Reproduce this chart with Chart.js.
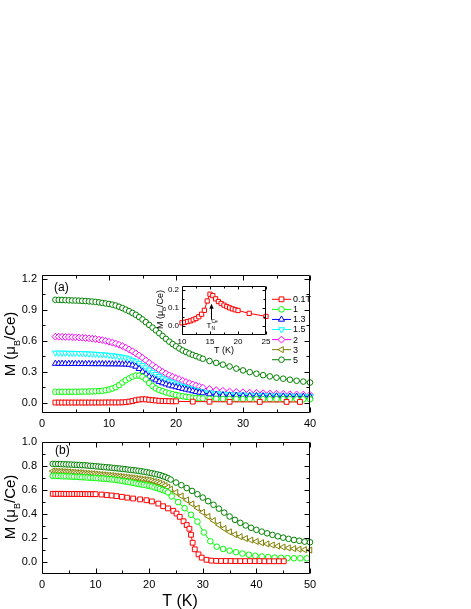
<!DOCTYPE html>
<html><head><meta charset="utf-8">
<script src="https://cdn.jsdelivr.net/npm/chart.js@4.4.1/dist/chart.umd.min.js"></script>
<style>
html,body{margin:0;padding:0;background:#fff}
#wrap{position:relative;width:471px;height:609px;overflow:hidden;background:#fff}
canvas{position:absolute}
</style></head>
<body><div id="wrap">
<canvas id="cA" width="471" height="168" style="left:0;top:262px"></canvas>
<canvas id="cIn" width="125" height="80" style="left:150px;top:278px"></canvas>
<canvas id="cB" width="471" height="179" style="left:0;top:430px"></canvas>
</div>
<script>
// ---------------- DATA ----------------
// Panel (a): temperatures (K)
const tA = [2,2.5,3,3.5,4,4.5,5,5.5,6,6.5,7,7.5,8,8.5,9,9.5,10,10.5,11,11.5,12,12.5,13,13.5,14,14.5,15,15.5,16,16.5,17,17.5,18,18.5,19,19.5,20,20.5,21,21.5,22,22.5,23,23.5,24,
            25,26,27,28,29,30,31,32,33,34,35,36,37,38,39,40];
const mA_5T = [0.995,0.994,0.993,0.992,0.990,0.989,0.988,0.987,0.985,0.983,0.980,0.978,0.975,0.970,0.965,0.960,0.955,0.948,0.940,0.928,0.915,0.900,0.885,0.868,0.850,0.828,0.805,0.779,0.752,0.726,0.700,0.672,0.645,0.617,0.590,0.567,0.545,0.524,0.505,0.490,0.475,0.462,0.450,0.437,0.425,
               0.403,0.385,0.368,0.350,0.330,0.312,0.295,0.280,0.266,0.254,0.242,0.232,0.222,0.212,0.204,0.195];
const mA_2T = [0.638,0.638,0.637,0.636,0.635,0.634,0.632,0.630,0.628,0.625,0.622,0.619,0.615,0.610,0.605,0.598,0.590,0.581,0.572,0.560,0.547,0.532,0.515,0.497,0.478,0.457,0.435,0.410,0.385,0.362,0.340,0.318,0.298,0.281,0.265,0.251,0.238,0.225,0.212,0.200,0.188,0.176,0.165,0.155,0.145,
               0.132,0.122,0.115,0.108,0.104,0.100,0.097,0.094,0.091,0.089,0.087,0.085,0.082,0.080,0.078,0.076];
const mA_1p5T = [0.482,0.482,0.481,0.481,0.480,0.479,0.479,0.478,0.477,0.475,0.474,0.472,0.470,0.468,0.466,0.463,0.460,0.456,0.452,0.447,0.442,0.435,0.425,0.412,0.397,0.380,0.360,0.339,0.318,0.296,0.275,0.256,0.238,0.222,0.208,0.195,0.183,0.171,0.160,0.149,0.138,0.129,0.120,0.112,0.105,
                 0.097,0.090,0.085,0.081,0.078,0.076,0.074,0.072,0.070,0.069,0.068,0.067,0.066,0.065,0.064,0.063];
const mA_1p3T = [0.378,0.378,0.378,0.377,0.377,0.377,0.377,0.376,0.376,0.376,0.376,0.375,0.375,0.375,0.375,0.374,0.374,0.374,0.373,0.373,0.372,0.371,0.369,0.362,0.350,0.328,0.300,0.275,0.252,0.234,0.218,0.203,0.190,0.179,0.168,0.160,0.152,0.144,0.136,0.128,0.121,0.113,0.106,0.099,0.093,
                 0.084,0.078,0.074,0.071,0.069,0.067,0.066,0.065,0.064,0.063,0.062,0.061,0.060,0.059,0.058,0.058];
const mA_1T = [0.105,0.105,0.105,0.105,0.105,0.105,0.106,0.106,0.107,0.107,0.108,0.109,0.110,0.112,0.115,0.120,0.127,0.137,0.150,0.170,0.195,0.217,0.235,0.252,0.262,0.262,0.250,0.225,0.190,0.160,0.138,0.122,0.110,0.099,0.090,0.082,0.075,0.068,0.062,0.057,0.052,0.048,0.045,0.042,0.040,
               0.038,0.037,0.036,0.036,0.035,0.035,0.035,0.035,0.034,0.034,0.034,0.034,0.034,0.033,0.033,0.033];
const tA_01T = [2,2.5,3,3.5,4,4.5,5,5.5,6,6.5,7,7.5,8,8.5,9,9.5,10,10.5,11,11.5,12,12.5,13,13.5,14,14.5,15,15.5,16,16.5,17,17.5,18,18.5,19,19.5,20,
                22.5,25,28,32.5,36.5,38.5];
const mA_01T = [0.001,0.001,0.001,0.001,0.001,0.001,0.001,0.001,0.001,0.001,0.001,0.001,0.001,0.001,0.001,0.002,0.002,0.002,0.002,0.002,0.003,0.005,0.010,0.016,0.024,0.030,0.033,0.032,0.028,0.024,0.021,0.018,0.016,0.015,0.014,0.013,0.013,
                0.010,0.009,0.008,0.007,0.007,0.007];
const tA_3T = [];
const mA_3T = [];
const fieldLabels = ['0.1T','1','1.3','1.5','2','3','5'];

// Inset (0.1 T)
const tInset = [10,10.5,11,11.5,12,12.5,13,13.5,14,14.5,15,15.5,16,16.5,17,17.5,18,18.5,19,19.5,20,22,25];
const mInset = [0.018,0.021,0.025,0.029,0.035,0.042,0.052,0.066,0.088,0.140,0.178,0.170,0.152,0.137,0.126,0.117,0.109,0.102,0.096,0.091,0.087,0.071,0.054];

// Panel (b)
const tB = [2,2.5,3,3.5,4,4.5,5,5.5,6,6.5,7,7.5,8,8.5,9,9.5,10,10.5,11,11.5,12,12.5,13,13.5,14,14.5,15,15.5,16,16.5,17,17.5,18,18.5,19,19.5,20,20.5,21,21.5,22,22.5,23,23.5,24,
            25,26,27,28,29,30,31,32,33,34,35,36,37,38,39,40,41,42,43,44,45,46,47,48,49,50];
const mB_darkgreen = [0.815,0.814,0.814,0.813,0.812,0.811,0.810,0.809,0.808,0.807,0.806,0.804,0.803,0.801,0.799,0.797,0.795,0.793,0.791,0.789,0.787,0.785,0.783,0.780,0.778,0.776,0.773,0.771,0.768,0.765,0.763,0.760,0.757,0.753,0.750,0.746,0.742,0.737,0.732,0.727,0.722,0.714,0.706,0.696,0.685,
                      0.660,0.638,0.614,0.590,0.563,0.535,0.505,0.475,0.443,0.410,0.378,0.350,0.325,0.303,0.284,0.267,0.252,0.238,0.225,0.213,0.202,0.192,0.183,0.176,0.169,0.164];
const mB_olive = [0.755,0.754,0.753,0.752,0.750,0.749,0.748,0.746,0.745,0.743,0.742,0.740,0.738,0.736,0.734,0.732,0.730,0.728,0.726,0.724,0.722,0.720,0.718,0.715,0.713,0.711,0.708,0.706,0.703,0.700,0.698,0.695,0.692,0.689,0.686,0.683,0.680,0.674,0.668,0.662,0.655,0.645,0.635,0.621,0.605,
                  0.578,0.548,0.515,0.482,0.448,0.413,0.378,0.343,0.308,0.278,0.250,0.228,0.210,0.195,0.182,0.170,0.160,0.150,0.141,0.132,0.124,0.117,0.111,0.106,0.102,0.098];
const tB_green = [2,2.5,3,3.5,4,4.5,5,5.5,6,6.5,7,7.5,8,8.5,9,9.5,10,10.5,11,11.5,12,12.5,13,13.5,14,14.5,15,15.5,16,16.5,17,17.5,18,18.5,19,19.5,20,20.5,21,21.5,22,22.5,23,23.5,
                  24.2,25.4,26.6,27.8,29,30.2,31.4,32.6,33.8,35,36.2,37.4,38.6,39.8,41,42.2,43.4,44.6,45.8,47,48.2,49.4];
const mB_green = [0.715,0.715,0.714,0.713,0.712,0.711,0.710,0.709,0.708,0.707,0.706,0.704,0.703,0.701,0.700,0.698,0.697,0.695,0.694,0.692,0.690,0.688,0.685,0.683,0.680,0.677,0.673,0.669,0.665,0.661,0.657,0.652,0.648,0.644,0.640,0.636,0.633,0.627,0.620,0.613,0.606,0.598,0.590,0.578,
                  0.545,0.497,0.447,0.392,0.335,0.245,0.172,0.127,0.108,0.094,0.081,0.070,0.060,0.052,0.045,0.040,0.036,0.034,0.032,0.031,0.030,0.030];
const tB_red = [2,2.5,3,3.5,4,4.5,5,5.5,6,6.5,7,7.5,8,8.5,9,9.5,10,
                11.1,12.1,13,13.9,14.9,15.9,17,18.3,19.5,20.5,21.7,22.6,23.5,24.5,25.1,25.7,26.4,27,27.5,27.8,28.1,28.5,29.2,29.8,30.7,31.6,32.5,33.4,34.3,35.2,36.1,37,37.9,38.8,39.7,40.6,41.5,42.4,43.3,44.2,45.1];
const mB_red = [0.566,0.566,0.566,0.566,0.566,0.565,0.565,0.565,0.565,0.565,0.565,0.564,0.564,0.564,0.563,0.563,0.563,
                0.560,0.556,0.552,0.547,0.541,0.534,0.527,0.520,0.513,0.503,0.485,0.463,0.445,0.425,0.402,0.375,0.338,0.306,0.276,0.226,0.160,0.105,0.063,0.036,0.018,0.011,0.009,0.008,0.008,0.008,0.007,0.007,0.007,0.007,0.007,0.007,0.006,0.006,0.006,0.006,0.006];

// Tick values
const xMajorA = [0,10,20,30,40], xMinorA = [5,15,25,35];
const yMajorA = [0,0.3,0.6,0.9,1.2], yMinorA = [0.15,0.45,0.75,1.05];
const xMajorB = [0,10,20,30,40,50], xMinorB = [5,15,25,35,45];
const yMajorB = [0,0.2,0.4,0.6,0.8,1.0], yMinorB = [0.1,0.3,0.5,0.7,0.9];
const xMajorIn = [10,15,20,25], xMinorIn = [12.5,17.5,22.5];
const yMajorIn = [0,0.1,0.2], yMinorIn = [0.05,0.15];

// ---------------- RENDERING ----------------
const FONT = '"Liberation Sans", Arial, Helvetica, sans-serif';
Chart.defaults.font.family = FONT;
Chart.defaults.color = '#000';

const COL = {red:'#ff0000', green:'#00ff00', blue:'#0000ff', cyan:'#00ffff', magenta:'#ff00ff', olive:'#808000', dkgreen:'#008000'};
const pts = (xs, ys) => xs.map((x, i) => ({x: x, y: ys[i]}));
function series(label, xs, ys, color, style, rot, r) {
  return {label: label, data: pts(xs, ys), showLine: true, borderColor: color, borderWidth: 1,
    pointStyle: style, pointRotation: rot || 0, pointRadius: r, pointBorderWidth: 1,
    pointBorderColor: color, pointBackgroundColor: '#ffffff', clip: false, tension: 0};
}

function marker(ctx, style, r, rot, x, y) {
  let rad = (rot || 0) * Math.PI / 180;
  ctx.beginPath();
  if (style === 'circle') { ctx.arc(x, y, r, 0, Math.PI * 2); }
  else if (style === 'rect') { const s = r * Math.SQRT1_2; ctx.rect(x - s, y - s, 2 * s, 2 * s); }
  else if (style === 'rectRot') {
    ctx.moveTo(x, y - r); ctx.lineTo(x + r, y); ctx.lineTo(x, y + r); ctx.lineTo(x - r, y); ctx.closePath();
  } else if (style === 'triangle') {
    ctx.moveTo(x + Math.sin(rad) * r, y - Math.cos(rad) * r); rad += 2 * Math.PI / 3;
    ctx.lineTo(x + Math.sin(rad) * r, y - Math.cos(rad) * r); rad += 2 * Math.PI / 3;
    ctx.lineTo(x + Math.sin(rad) * r, y - Math.cos(rad) * r); ctx.closePath();
  }
  ctx.fill(); ctx.stroke();
}

function drawYTitle(ctx, bx, cy, size, sub) {
  ctx.save();
  ctx.translate(bx, cy); ctx.rotate(-Math.PI / 2);
  ctx.fillStyle = '#000'; ctx.textAlign = 'left'; ctx.textBaseline = 'alphabetic';
  ctx.font = size + 'px ' + FONT;
  const p1 = 'M (\u03bc', p3 = '/Ce)';
  const w1 = ctx.measureText(p1).width, w3 = ctx.measureText(p3).width;
  ctx.font = sub + 'px ' + FONT; const w2 = ctx.measureText('B').width;
  let x = -(w1 + w2 + w3) / 2;
  ctx.font = size + 'px ' + FONT; ctx.fillText(p1, x, 0); x += w1;
  ctx.font = sub + 'px ' + FONT; ctx.fillText('B', x, size * 0.3); x += w2;
  ctx.font = size + 'px ' + FONT; ctx.fillText(p3, x, 0);
  ctx.restore();
}

const frameTicks = {
  id: 'frameTicks',
  afterDatasetsDraw(chart, args, o) {
    const {ctx, chartArea: a} = chart;
    const xs = chart.scales.x, ys = chart.scales.y;
    ctx.save();
    ctx.strokeStyle = '#000'; ctx.lineWidth = 1;
    const L = Math.round(a.left) + 0.5, R = Math.round(a.right) - 0.5, T = Math.round(a.top) + 0.5, B = Math.round(a.bottom) - 0.5;
    ctx.beginPath();
    ctx.rect(L, T, R - L, B - T);
    const xt = (v, len) => { const p = Math.round(xs.getPixelForValue(v)) + 0.5; ctx.moveTo(p, B); ctx.lineTo(p, B - len); ctx.moveTo(p, T); ctx.lineTo(p, T + len); };
    const yt = (v, len) => { const p = Math.round(ys.getPixelForValue(v)) + 0.5; ctx.moveTo(L, p); ctx.lineTo(L + len, p); ctx.moveTo(R, p); ctx.lineTo(R - len, p); };
    o.xMajor.forEach(v => xt(v, o.maj)); o.xMinor.forEach(v => xt(v, o.min));
    o.yMajor.forEach(v => yt(v, o.maj)); o.yMinor.forEach(v => yt(v, o.min));
    ctx.stroke();
    ctx.restore();
  }
};

function makeOpts(cfg) {
  return {
    responsive: false, animation: false, devicePixelRatio: 1,
    layout: {padding: {left: 0, top: cfg.padTop, right: cfg.padRight, bottom: 0}},
    plugins: {legend: {display: false}, tooltip: {enabled: false},
      frameTicks: {xMajor: cfg.xMajor, xMinor: cfg.xMinor, yMajor: cfg.yMajor, yMinor: cfg.yMinor, maj: cfg.maj, min: cfg.min}},
    scales: {
      x: {type: 'linear', min: cfg.xMin, max: cfg.xMax,
        afterBuildTicks: s => { s.ticks = cfg.xMajor.map(v => ({value: v})); },
        afterFit: s => { s.height = cfg.xH; },
        grid: {display: false, drawTicks: false}, border: {display: false},
        ticks: {padding: cfg.xPad, font: {size: cfg.fs}, color: '#000', maxRotation: 0, autoSkip: false,
          callback: v => String(v)}},
      y: {type: 'linear', min: cfg.yMin, max: cfg.yMax,
        afterBuildTicks: s => { s.ticks = cfg.yMajor.map(v => ({value: v})); },
        afterFit: s => { s.width = cfg.yW; },
        grid: {display: false, drawTicks: false}, border: {display: false},
        ticks: {padding: cfg.yPad, font: {size: cfg.fs}, color: '#000', autoSkip: false,
          callback: v => Number(v).toFixed(1)}}
    }
  };
}

// ---- Panel (a)
const dsA = [
  Object.assign(series(fieldLabels[0], tA_01T, mA_01T, COL.red, 'rect', 0, 3.4), {legendStyle: 'rect'}),
  series(fieldLabels[1], tA, mA_1T, COL.green, 'circle', 0, 2.8),
  series(fieldLabels[2], tA, mA_1p3T, COL.blue, 'triangle', 0, 3.5),
  series(fieldLabels[3], tA, mA_1p5T, COL.cyan, 'triangle', 180, 3.5),
  series(fieldLabels[4], tA, mA_2T, COL.magenta, 'rectRot', 0, 3.4),
  series(fieldLabels[5], tA_3T, mA_3T, COL.olive, 'triangle', 270, 3.5),
  series(fieldLabels[6], tA, mA_5T, COL.dkgreen, 'circle', 0, 2.8)
];
const decoA = {
  id: 'decoA',
  afterDraw(chart) {
    const ctx = chart.ctx;
    ctx.save();
    ctx.fillStyle = '#000';
    ctx.font = '12px ' + FONT; ctx.textAlign = 'left'; ctx.textBaseline = 'alphabetic';
    ctx.fillText('(a)', 54, 29);
    drawYTitle(ctx, 15, 82, 15, 9);
    // legend
    const y0 = 37.3, dy = 10.07;
    chart.data.datasets.forEach((d, i) => {
      const y = y0 + i * dy;
      ctx.strokeStyle = d.borderColor; ctx.lineWidth = 1;
      ctx.beginPath(); ctx.moveTo(272, y); ctx.lineTo(291, y); ctx.stroke();
      ctx.fillStyle = '#fff';
      marker(ctx, d.pointStyle, d.pointRadius, d.pointRotation, 281.5, y);
      ctx.fillStyle = '#000'; ctx.font = '9px ' + FONT; ctx.textBaseline = 'middle';
      ctx.fillText(d.label, 293, y + 0.5);
    });
    ctx.restore();
  }
};
new Chart(document.getElementById('cA'), {
  type: 'scatter',
  data: {datasets: dsA},
  options: makeOpts({padTop: 13, padRight: 161, xH: 17, yW: 42, xMin: 0, xMax: 40, yMin: -0.1, yMax: 1.235,
    xMajor: xMajorA, xMinor: xMinorA, yMajor: yMajorA, yMinor: yMinorA, maj: 5, min: 3, fs: 11, xPad: 4, yPad: 5}),
  plugins: [frameTicks, decoA]
});

// ---- Inset
const decoIn = {
  id: 'decoIn',
  afterDraw(chart) {
    const ctx = chart.ctx, xs = chart.scales.x, ys = chart.scales.y;
    ctx.save();
    ctx.fillStyle = '#000';
    drawYTitle(ctx, 13, 31.5, 9, 6);
    ctx.font = '9px ' + FONT; ctx.textAlign = 'center'; ctx.textBaseline = 'alphabetic';
    ctx.fillText('T (K)', 74, 75);
    // arrow marking T_N
    const ax = Math.round(xs.getPixelForValue(15.2)) + 0.5;
    const yb = ys.getPixelForValue(0.035), yt = ys.getPixelForValue(0.125);
    ctx.strokeStyle = '#000'; ctx.lineWidth = 1;
    ctx.beginPath(); ctx.moveTo(ax, yb); ctx.lineTo(ax, yt + 3); ctx.stroke();
    ctx.beginPath(); ctx.moveTo(ax, yt); ctx.lineTo(ax - 2.2, yt + 5); ctx.lineTo(ax + 2.2, yt + 5); ctx.closePath(); ctx.fill();
    const y0 = ys.getPixelForValue(0);
    ctx.textAlign = 'left';
    ctx.font = '8px ' + FONT; ctx.fillText('T', ax - 5, y0 + 2);
    ctx.font = '5px ' + FONT; ctx.fillText('N', ax, y0 + 3.5); ctx.fillText('Ce', ax, y0 - 3);
    ctx.restore();
  }
};
new Chart(document.getElementById('cIn'), {
  type: 'scatter',
  data: {datasets: [series('0.1T', tInset, mInset, COL.red, 'rect', 0, 3.0)]},
  options: makeOpts({padTop: 6, padRight: 9, xH: 23, yW: 32, xMin: 10, xMax: 25, yMin: -0.05, yMax: 0.225,
    xMajor: xMajorIn, xMinor: xMinorIn, yMajor: yMajorIn, yMinor: yMinorIn, maj: 3, min: 2, fs: 8, xPad: 2, yPad: 3}),
  plugins: [frameTicks, decoIn]
});

// ---- Panel (b)
const dsB = [
  series('b-red', tB_red, mB_red, COL.red, 'rect', 0, 3.4),
  series('b-green', tB_green, mB_green, COL.green, 'circle', 0, 2.8),
  series('b-olive', tB, mB_olive, COL.olive, 'triangle', 270, 3.5),
  series('b-darkgreen', tB, mB_darkgreen, COL.dkgreen, 'circle', 0, 2.8)
];
const decoB = {
  id: 'decoB',
  afterDraw(chart) {
    const ctx = chart.ctx;
    ctx.save();
    ctx.fillStyle = '#000';
    ctx.font = '12px ' + FONT; ctx.textAlign = 'left'; ctx.textBaseline = 'alphabetic';
    ctx.fillText('(b)', 55, 24);
    drawYTitle(ctx, 15, 77, 15, 9);
    ctx.font = '16px ' + FONT; ctx.textAlign = 'center';
    ctx.fillText('T (K)', 180, 176);
    ctx.restore();
  }
};
new Chart(document.getElementById('cB'), {
  type: 'scatter',
  data: {datasets: dsB},
  options: makeOpts({padTop: 9, padRight: 161, xH: 35, yW: 42, xMin: 0, xMax: 50, yMin: -0.1, yMax: 1.0,
    xMajor: xMajorB, xMinor: xMinorB, yMajor: yMajorB, yMinor: yMinorB, maj: 5, min: 3, fs: 11, xPad: 4, yPad: 5}),
  plugins: [frameTicks, decoB]
});
</script>
</body></html>
